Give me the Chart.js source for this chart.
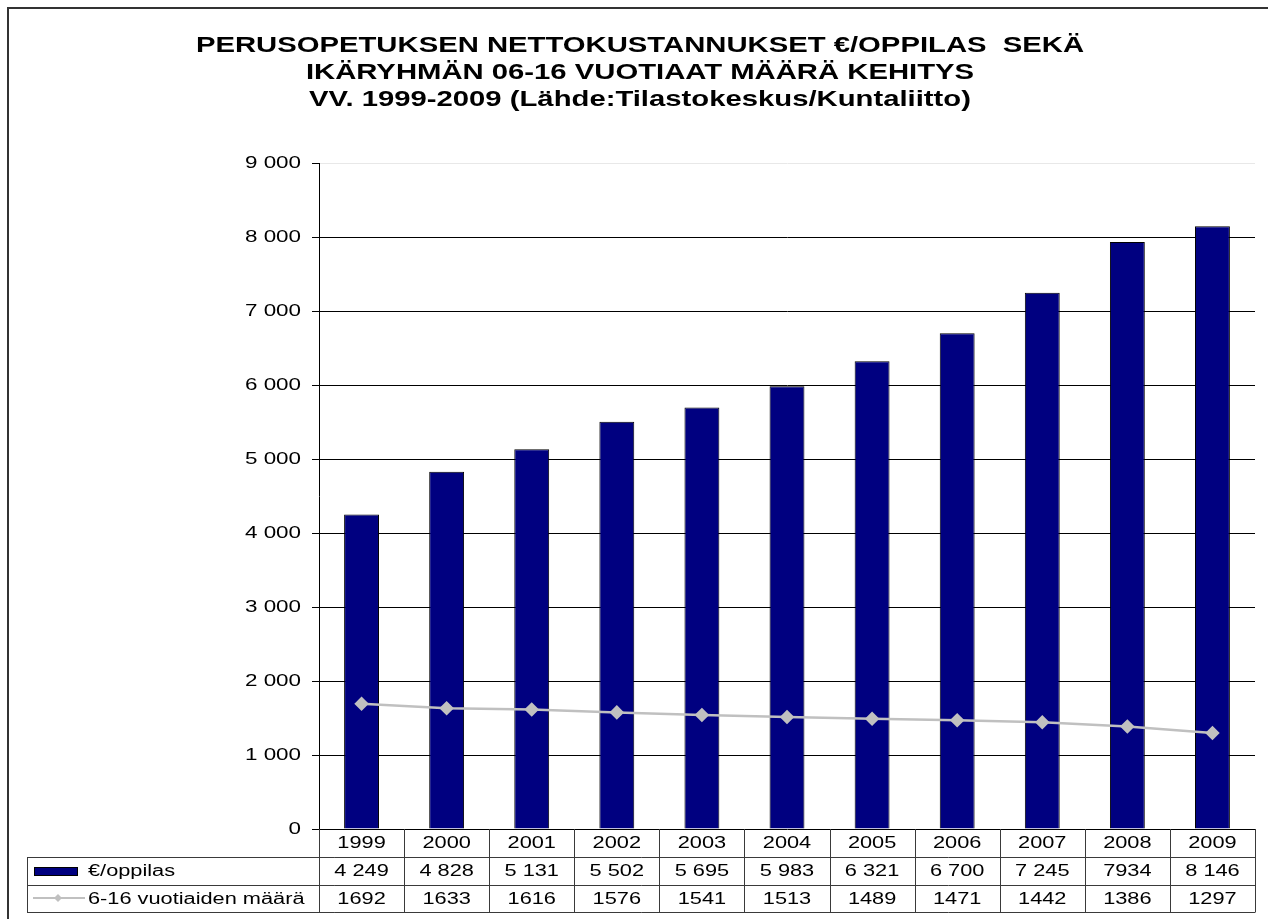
<!DOCTYPE html>
<html>
<head>
<meta charset="utf-8">
<script src="https://cdn.jsdelivr.net/npm/chart.js@4"></script>
<style>
html,body{margin:0;padding:0;background:#fff;}
canvas{display:block;}
</style>
</head>
<body>
<canvas id="c" width="1268" height="919"></canvas>
<script>
const years = ['1999','2000','2001','2002','2003','2004','2005','2006','2007','2008','2009'];
const costValues = [4249,4828,5131,5502,5695,5983,6321,6700,7245,7934,8146];
const ageValues = [1692,1633,1616,1576,1541,1513,1489,1471,1442,1386,1297];
const costTableText = ['4 249','4 828','5 131','5 502','5 695','5 983','6 321','6 700','7 245','7934','8 146'];
const ageTableText = ['1692','1633','1616','1576','1541','1513','1489','1471','1442','1386','1297'];
const costLabel = '€/oppilas';
const ageLabel = '6-16 vuotiaiden määrä';
const titleLines = [
  'PERUSOPETUKSEN NETTOKUSTANNUKSET €/OPPILAS  SEKÄ',
  'IKÄRYHMÄN 06-16 VUOTIAAT MÄÄRÄ KEHITYS',
  'VV. 1999-2009 (Lähde:Tilastokeskus/Kuntaliitto)'
];
const yMin = 0, yMax = 9000, yStep = 1000;

const FONT = '"Liberation Sans", Arial, sans-serif';
const BAR_COLOR = '#000080';
const LINE_COLOR = '#c0c0c0';

function fmt(v){ return String(v).replace(/\B(?=(\d{3})+(?!\d))/g, ' '); }

function stretchText(ctx, text, x, y, sx, align){
  ctx.save();
  ctx.translate(x, y);
  ctx.scale(sx, 1);
  ctx.textAlign = align;
  ctx.textBaseline = 'middle';
  ctx.fillText(text, 0, 0);
  ctx.restore();
}

const decor = {
  id: 'decor',
  afterDraw(chart){
    const ctx = chart.ctx;
    const ca = chart.chartArea;
    const xs = chart.scales.x, ys = chart.scales.y;
    ctx.save();
    // outer frame (top and left visible)
    ctx.strokeStyle = '#333';
    ctx.lineWidth = 2;
    ctx.beginPath();
    ctx.moveTo(8, 919); ctx.lineTo(8, 8); ctx.lineTo(1268, 8);
    ctx.stroke();

    // title
    ctx.fillStyle = '#000';
    ctx.font = 'bold 22px ' + FONT;
    const tys = [46, 73, 100];
    titleLines.forEach((t, i) => stretchText(ctx, t, 640, tys[i], 1.33, 'center'));

    // y labels
    ctx.font = '16px ' + FONT;
    ys.ticks.forEach(t => {
      const y = ys.getPixelForValue(t.value);
      stretchText(ctx, fmt(t.value), ca.left - 18, y + 1, 1.4, 'right');
    });

    // data table
    const n = years.length;
    const w = (ca.right - ca.left) / n;
    const y0 = ca.bottom, y1 = 857, y2 = 885, y3 = 912;
    const tableLeft = 27;
    ctx.strokeStyle = '#3a3a3a';
    ctx.lineWidth = 1;
    ctx.beginPath();
    for (let i = 0; i <= n; i++) {
      const x = Math.round(xs.getPixelForValue(i) - w / 2) + 0.5;
      ctx.moveTo(x, y0); ctx.lineTo(x, y3);
    }
    [y1, y2, y3].forEach(y => { ctx.moveTo(tableLeft, y + 0.5); ctx.lineTo(Math.round(ca.right) + 0.5, y + 0.5); });
    ctx.moveTo(tableLeft + 0.5, y1); ctx.lineTo(tableLeft + 0.5, y3);
    ctx.stroke();

    ctx.fillStyle = '#000';
    ctx.font = '16px ' + FONT;
    for (let i = 0; i < n; i++) {
      const cx = xs.getPixelForValue(i);
      stretchText(ctx, years[i], cx, (y0 + y1) / 2 + 1, 1.36, 'center');
      stretchText(ctx, costTableText[i], cx, (y1 + y2) / 2 + 1, 1.36, 'center');
      stretchText(ctx, ageTableText[i], cx, (y2 + y3) / 2 + 1, 1.36, 'center');
    }
    // legend keys
    ctx.fillStyle = BAR_COLOR;
    ctx.fillRect(34, 867, 43, 8);
    ctx.strokeStyle = '#000';
    ctx.strokeRect(34.5, 867.5, 43, 8);
    ctx.strokeStyle = LINE_COLOR;
    ctx.lineWidth = 2;
    ctx.beginPath(); ctx.moveTo(33, 898); ctx.lineTo(85, 898); ctx.stroke();
    ctx.fillStyle = LINE_COLOR;
    ctx.beginPath();
    ctx.moveTo(58, 894); ctx.lineTo(62, 898); ctx.lineTo(58, 902); ctx.lineTo(54, 898); ctx.closePath();
    ctx.fill();
    ctx.fillStyle = '#000';
    ctx.font = '16px ' + FONT;
    stretchText(ctx, costLabel, 88, (y1 + y2) / 2 + 1, 1.36, 'left');
    stretchText(ctx, ageLabel, 88, (y2 + y3) / 2 + 1, 1.36, 'left');
    ctx.restore();
  }
};

new Chart(document.getElementById('c'), {
  type: 'bar',
  data: {
    labels: years,
    datasets: [
      {
        type: 'line',
        label: ageLabel,
        data: ageValues,
        borderColor: LINE_COLOR,
        backgroundColor: LINE_COLOR,
        borderWidth: 2.5,
        pointStyle: 'rectRot',
        pointRadius: 5.5,
        pointBackgroundColor: LINE_COLOR,
        pointBorderColor: LINE_COLOR,
        tension: 0,
        order: 0
      },
      {
        type: 'bar',
        label: costLabel,
        data: costValues,
        backgroundColor: BAR_COLOR,
        borderColor: '#000',
        borderWidth: 1,
        barPercentage: 0.41,
        categoryPercentage: 1,
        order: 1
      }
    ]
  },
  options: {
    responsive: false,
    animation: false,
    events: [],
    layout: { padding: { left: 0, right: 13, top: 163, bottom: 90 } },
    plugins: { legend: { display: false }, tooltip: { enabled: false }, title: { display: false } },
    scales: {
      x: { display: false, offset: true },
      y: {
        min: yMin, max: yMax,
        ticks: { stepSize: yStep, display: false },
        afterFit(scale){ scale.width = 319; },
        grid: {
          color: c => (c.tick && c.tick.value === yMax) ? '#e8e8e8' : '#000',
          tickColor: '#000',
          tickLength: 7,
          drawTicks: true,
          lineWidth: 1
        },
        border: { display: true, color: '#000', width: 1 }
      }
    }
  },
  plugins: [decor]
});
</script>
</body>
</html>
